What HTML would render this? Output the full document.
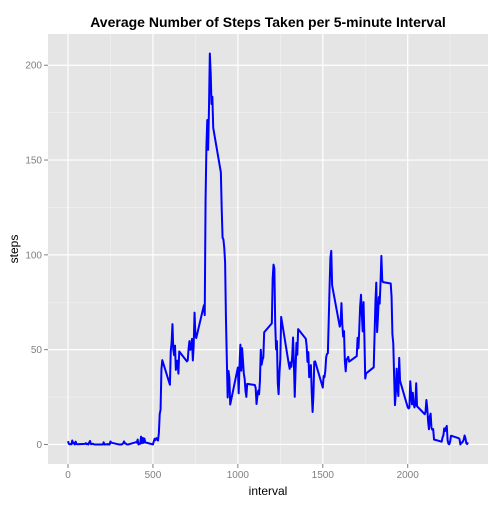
<!DOCTYPE html>
<html><head><meta charset="utf-8"><style>
body{margin:0;background:#fff;width:504px;height:504px;overflow:hidden;font-family:"Liberation Sans",sans-serif}
</style></head><body>
<svg id="chart" width="504" height="504" xmlns="http://www.w3.org/2000/svg">
<text x="268" y="27" text-anchor="middle" font-size="14" font-weight="bold" font-family="Liberation Sans, sans-serif">Average Number of Steps Taken per 5-minute Interval</text>
<rect x="48" y="34" width="440" height="430" fill="#e5e5e5"/>
<g id="grid"></g><g id="ticks"></g>
<path id="line" fill="none" stroke="#0000ff" stroke-width="2" stroke-linejoin="round"/>
<text x="268" y="495" text-anchor="middle" font-size="12">interval</text>
<text x="18" y="249" text-anchor="middle" font-size="12" transform="rotate(-90 18 249)">steps</text>
</svg>
<script>
const hourSteps = [
[1.72,0.34,0.13,0.15,0.08,2.09,0.53,0.87,0,1.47,0.30,0.13],
[0.32,0.68,0.15,0.34,0,1.11,1.83,0.17,0.17,0.38,0.26,0],
[0,0,1.13,0,0,0.13,0,0.23,0,0,1.55,0.94],
[0,0,0,0,0.21,0.62,1.62,0.58,0.49,0.08,0,0],
[1.19,0.94,2.57,0,0.34,0.36,4.11,0.66,3.49,0.83,3.11,1.11],
[0,1.56,3.0,2.25,3.32,2.96,2.09,6.06,16.02,18.34,39.45,44.49],
[31.49,49.26,53.77,63.45,49.96,47.08,52.15,39.34,44.02,44.17,37.36,49.04],
[43.81,44.38,50.51,54.51,49.92,50.98,55.68,44.32,52.26,69.55,57.85,56.15],
[73.38,68.21,129.43,157.53,171.15,155.40,177.30,206.17,195.92,179.57,183.40,167.02],
[143.45,124.04,109.11,108.11,103.72,95.96,66.21,45.23,24.79,38.75,34.98,21.06],
[40.57,26.98,42.42,52.66,38.92,50.79,44.28,37.42,34.70,28.34,25.09,31.94],
[31.36,29.68,21.32,25.55,28.38,26.47,33.43,49.98,42.04,44.60,46.04,59.19],
[63.87,87.70,94.85,92.77,63.40,50.17,54.47,32.42,26.53,37.74,45.06,67.28],
[42.34,39.88,43.26,40.98,46.25,56.43,42.75,25.13,39.96,53.55,47.32,60.81],
[55.75,51.96,43.58,48.70,35.47,37.55,41.85,27.51,17.11,26.08,43.62,43.77],
[30.02,36.08,35.49,38.85,45.96,47.75,48.13,65.32,82.91,98.66,102.11,83.96],
[62.13,64.13,74.55,63.17,56.91,59.77,43.87,38.57,44.66,45.45,46.21,43.68],
[46.62,56.30,50.72,61.23,72.72,78.94,68.94,59.66,75.09,56.51,34.77,37.45],
[40.68,58.02,74.70,85.32,59.26,67.77,77.70,74.25,85.34,99.45,86.58,85.60],
[84.87,77.83,58.04,53.36,36.33,20.72,27.40,40.02,30.21,25.55,45.66,33.53],
[19.62,19.02,19.34,33.34,26.81,21.17,27.30,21.34,19.55,21.32,32.30,20.15],
[15.94,17.23,23.45,19.25,12.45,8.02,14.66,16.30,8.68,7.79,8.13,2.62],
[1.45,3.68,4.81,8.51,7.08,8.70,9.75,2.21,0.32,0.11,1.60,4.60],
[3.30,2.85,0,0.83,0.96,1.58,2.60,4.70,3.30,0.64,0.23,1.08]
];
const xTicks = [0,500,1000,1500,2000];
const yTicks = [0,50,100,150,200];
const intervals = [], steps = [];
hourSteps.forEach((row,h)=>row.forEach((v,m)=>{intervals.push(h*100+m*5);steps.push(v);}));
const L=48,R=488,T=34,B=464;
const xmin=Math.min(...intervals),xmax=Math.max(...intervals),ymin=Math.min(...steps),ymax=Math.max(...steps);
const xp=(xmax-xmin)*0.05, yp=(ymax-ymin)*0.05;
const sx=v=>L+(v-(xmin-xp))/((xmax+xp)-(xmin-xp))*(R-L);
const sy=v=>B-(v-(ymin-yp))/((ymax+yp)-(ymin-yp))*(B-T);
const NS="http://www.w3.org/2000/svg";
const grid=document.getElementById('grid'), tk=document.getElementById('ticks');
function ln(p,x1,y1,x2,y2,c,w){const e=document.createElementNS(NS,'line');e.setAttribute('x1',x1);e.setAttribute('y1',y1);e.setAttribute('x2',x2);e.setAttribute('y2',y2);e.setAttribute('stroke',c);e.setAttribute('stroke-width',w);p.appendChild(e);return e;}
function tx(p,x,y,s,a){const e=document.createElementNS(NS,'text');e.setAttribute('x',x);e.setAttribute('y',y);e.setAttribute('text-anchor',a);e.setAttribute('font-size','10');e.setAttribute('fill','#7f7f7f');e.textContent=s;p.appendChild(e);return e;}
for(let i=0;i<xTicks.length;i++){
  const m=xTicks[i]+250; if(m<xmax+xp){const g=ln(grid,sx(m),T,sx(m),B,'#f2f2f2',0.6);
  
  }
}
for(let i=0;i<yTicks.length;i++){
  const m=yTicks[i]+25; if(m<ymax+yp){const g=ln(grid,L,sy(m),R,sy(m),'#f2f2f2',0.6);
  
  }
}
xTicks.forEach(v=>{const x=sx(v);const g=ln(grid,x,T,x,B,'#fff',1.2);


ln(tk,x,B,x,B+4,'#7f7f7f',1);
const t=tx(tk,x,B+14,String(v),'middle');

});
yTicks.forEach(v=>{const y=sy(v);const g=ln(grid,L,y,R,y,'#fff',1.2);


ln(tk,L-4,y,L,y,'#7f7f7f',1);
const t=tx(tk,L-6,y+3.5,String(v),'end');

});
document.getElementById('line').setAttribute('d',intervals.map((v,i)=>(i?'L':'M')+sx(v).toFixed(2)+','+sy(steps[i]).toFixed(2)).join(''));
</script>
</body></html>
